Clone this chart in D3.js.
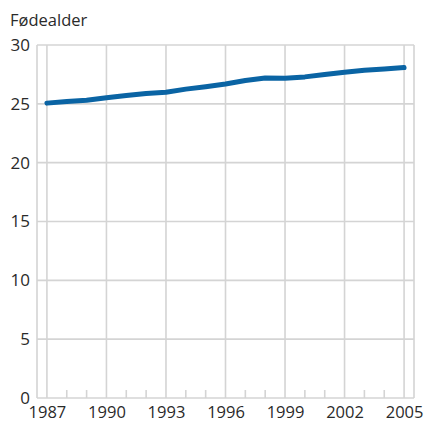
<!DOCTYPE html>
<html>
<head>
<meta charset="utf-8">
<script src="https://cdn.jsdelivr.net/npm/d3@7"></script>
<style>
  body { margin: 0; background: #fff; }
  text { font-family: "Open Sans", sans-serif; fill: #2a2a2a; }
  .grid line { stroke: #d4d4d4; stroke-width: 1.6; }
  .y-axis .tick text { font-size: 17px; }
  .x-axis .tick text { font-size: 16.5px; }
</style>
</head>
<body>
<svg width="426" height="423"></svg>
<script>
// years and mean age at birth
const years = [1987, 1988, 1989, 1990, 1991, 1992, 1993, 1994, 1995, 1996,
  1997, 1998, 1999, 2000, 2001, 2002, 2003, 2004, 2005];
const ages = [25.06, 25.2, 25.31, 25.52, 25.7, 25.87, 25.98, 26.25, 26.46, 26.68,
  26.98, 27.2, 27.18, 27.29, 27.5, 27.69, 27.86, 27.97, 28.08];
const yTicks = [0, 5, 10, 15, 20, 25, 30];
const xLabels = [1987, 1990, 1993, 1996, 1999, 2002, 2005];

const margin = { top: 45, right: 12, bottom: 25, left: 37 };
const width = 426 - margin.left - margin.right;
const height = 423 - margin.top - margin.bottom;

const x = d3.scaleLinear().domain([1986.5, 2005.5]).range([0, width]);
const y = d3.scaleLinear().domain([0, 30]).range([height, 0]);

const svg = d3.select("svg")
  .append("g")
  .attr("transform", "translate(" + margin.left + "," + margin.top + ")");

// horizontal grid
const hGrid = svg.append("g").attr("class", "grid");
hGrid.selectAll("line")
  .data(yTicks)
  .enter()
  .append("line")
  .attr("x1", 0)
  .attr("x2", width)
  .attr("y1", d => y(d))
  .attr("y2", d => y(d));

// vertical grid at labelled years, plus frame edges
const vGrid = svg.append("g").attr("class", "grid");
vGrid.selectAll("line")
  .data(xLabels)
  .enter()
  .append("line")
  .attr("x1", d => x(d))
  .attr("x2", d => x(d))
  .attr("y1", 0)
  .attr("y2", height);
vGrid.selectAll(".edge")
  .data(x.range())
  .enter()
  .append("line")
  .attr("class", "edge")
  .attr("x1", d => d)
  .attr("x2", d => d)
  .attr("y1", 0)
  .attr("y2", height);

// minor year ticks along the bottom
vGrid.selectAll(".minor")
  .data(years.filter(d => xLabels.indexOf(d) < 0))
  .enter()
  .append("line")
  .attr("class", "minor")
  .attr("x1", d => x(d))
  .attr("x2", d => x(d))
  .attr("y1", height)
  .attr("y2", height - 8);

// axes (labels only)
const leftAxis = svg.append("g")
  .attr("class", "y-axis")
  .call(d3.axisLeft(y).tickValues(yTicks).tickSize(0).tickPadding(7))
  .attr("font-family", null)
  .attr("font-size", null);
leftAxis.select(".domain").remove();

const bottomAxis = svg.append("g")
  .attr("class", "x-axis")
  .attr("transform", "translate(0," + height + ")")
  .call(d3.axisBottom(x).tickValues(xLabels).tickFormat(d3.format("d")).tickSize(0).tickPadding(8))
  .attr("font-family", null)
  .attr("font-size", null);
bottomAxis.select(".domain").remove();

// line
const line = d3.line()
  .x((d, i) => x(years[i]))
  .y(d => y(d));

svg.append("path")
  .datum(ages)
  .attr("fill", "none")
  .attr("stroke", "#0a64a4")
  .attr("stroke-width", 5)
  .attr("stroke-linecap", "round")
  .attr("stroke-linejoin", "round")
  .attr("d", line);

// y axis title
d3.select("svg").append("text")
  .attr("x", 10)
  .attr("y", 26)
  .style("font-size", "16.5px")
  .text("Fødealder");
</script>
</body>
</html>
